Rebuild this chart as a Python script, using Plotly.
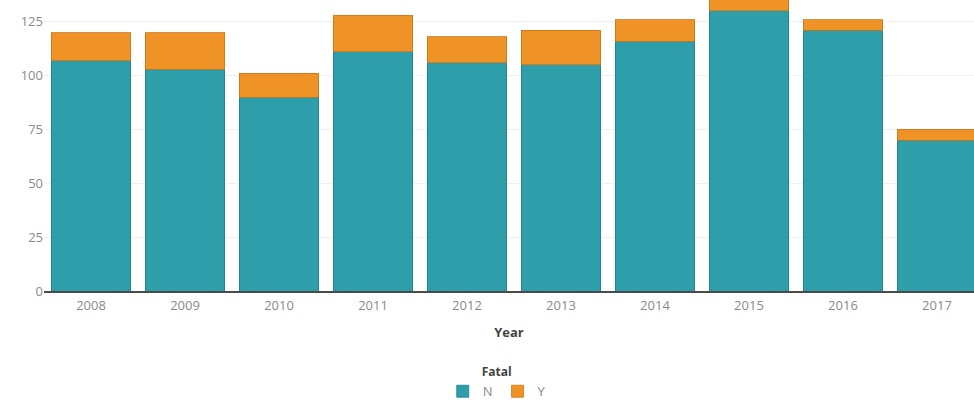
import plotly.graph_objects as go

years = ["2008", "2009", "2010", "2011", "2012", "2013", "2014", "2015", "2016", "2017"]
fatal_n = [107, 103, 90, 111, 106, 105, 116, 130, 121, 70]
fatal_y = [13, 17, 11, 17, 12, 16, 10, 7, 5, 5]
y_ticks = [0, 25, 50, 75, 100, 125]

teal = "#2e9eab"
orange = "#ef9326"

fig = go.Figure()
fig.add_trace(go.Bar(x=years, y=fatal_n, name="N",
                     marker=dict(color=teal, line=dict(color="#1f7f8a", width=0.8))))
fig.add_trace(go.Bar(x=years, y=fatal_y, name="Y",
                     marker=dict(color=orange, line=dict(color="#c9771a", width=0.8))))

fig.update_layout(
    width=974, height=403,
    barmode="stack",
    bargap=0.15,
    margin=dict(l=44, r=0, t=0, b=112),
    paper_bgcolor="white",
    plot_bgcolor="white",
    font=dict(family="Open Sans, sans-serif", size=13, color="#8a8a8a"),
    xaxis=dict(
        type="category",
        range=[-0.5, 9.394],
        showline=True, linecolor="#4a4a4a", linewidth=1.5,
        ticks="", showgrid=False,
        tickfont=dict(size=13, color="#8a8a8a"),
        ticklabelstandoff=2,
        title=dict(text="<b>Year</b>", font=dict(size=13, color="#444444"), standoff=15),
    ),
    yaxis=dict(
        range=[0, 135.1],
        tickvals=y_ticks,
        showgrid=True, gridcolor="#f0f0f0", gridwidth=1,
        zeroline=False, showline=False, ticks="",
        tickfont=dict(size=13, color="#8a8a8a"),
        ticklabelstandoff=0,
    ),
    legend=dict(
        orientation="h",
        xref="container", yref="container",
        x=0.51, xanchor="center",
        y=0.105, yanchor="top",
        title=dict(text="<b>Fatal</b>", side="top center", font=dict(size=12, color="#444444")),
        font=dict(size=13, color="#8a8a8a"),
        itemwidth=30,
        traceorder="normal",
    ),
    showlegend=True,
)

fig.write_html("out.html",
               config={"displayModeBar": False},
               post_script="document.body.style.margin='0';document.body.style.overflow='hidden';")
